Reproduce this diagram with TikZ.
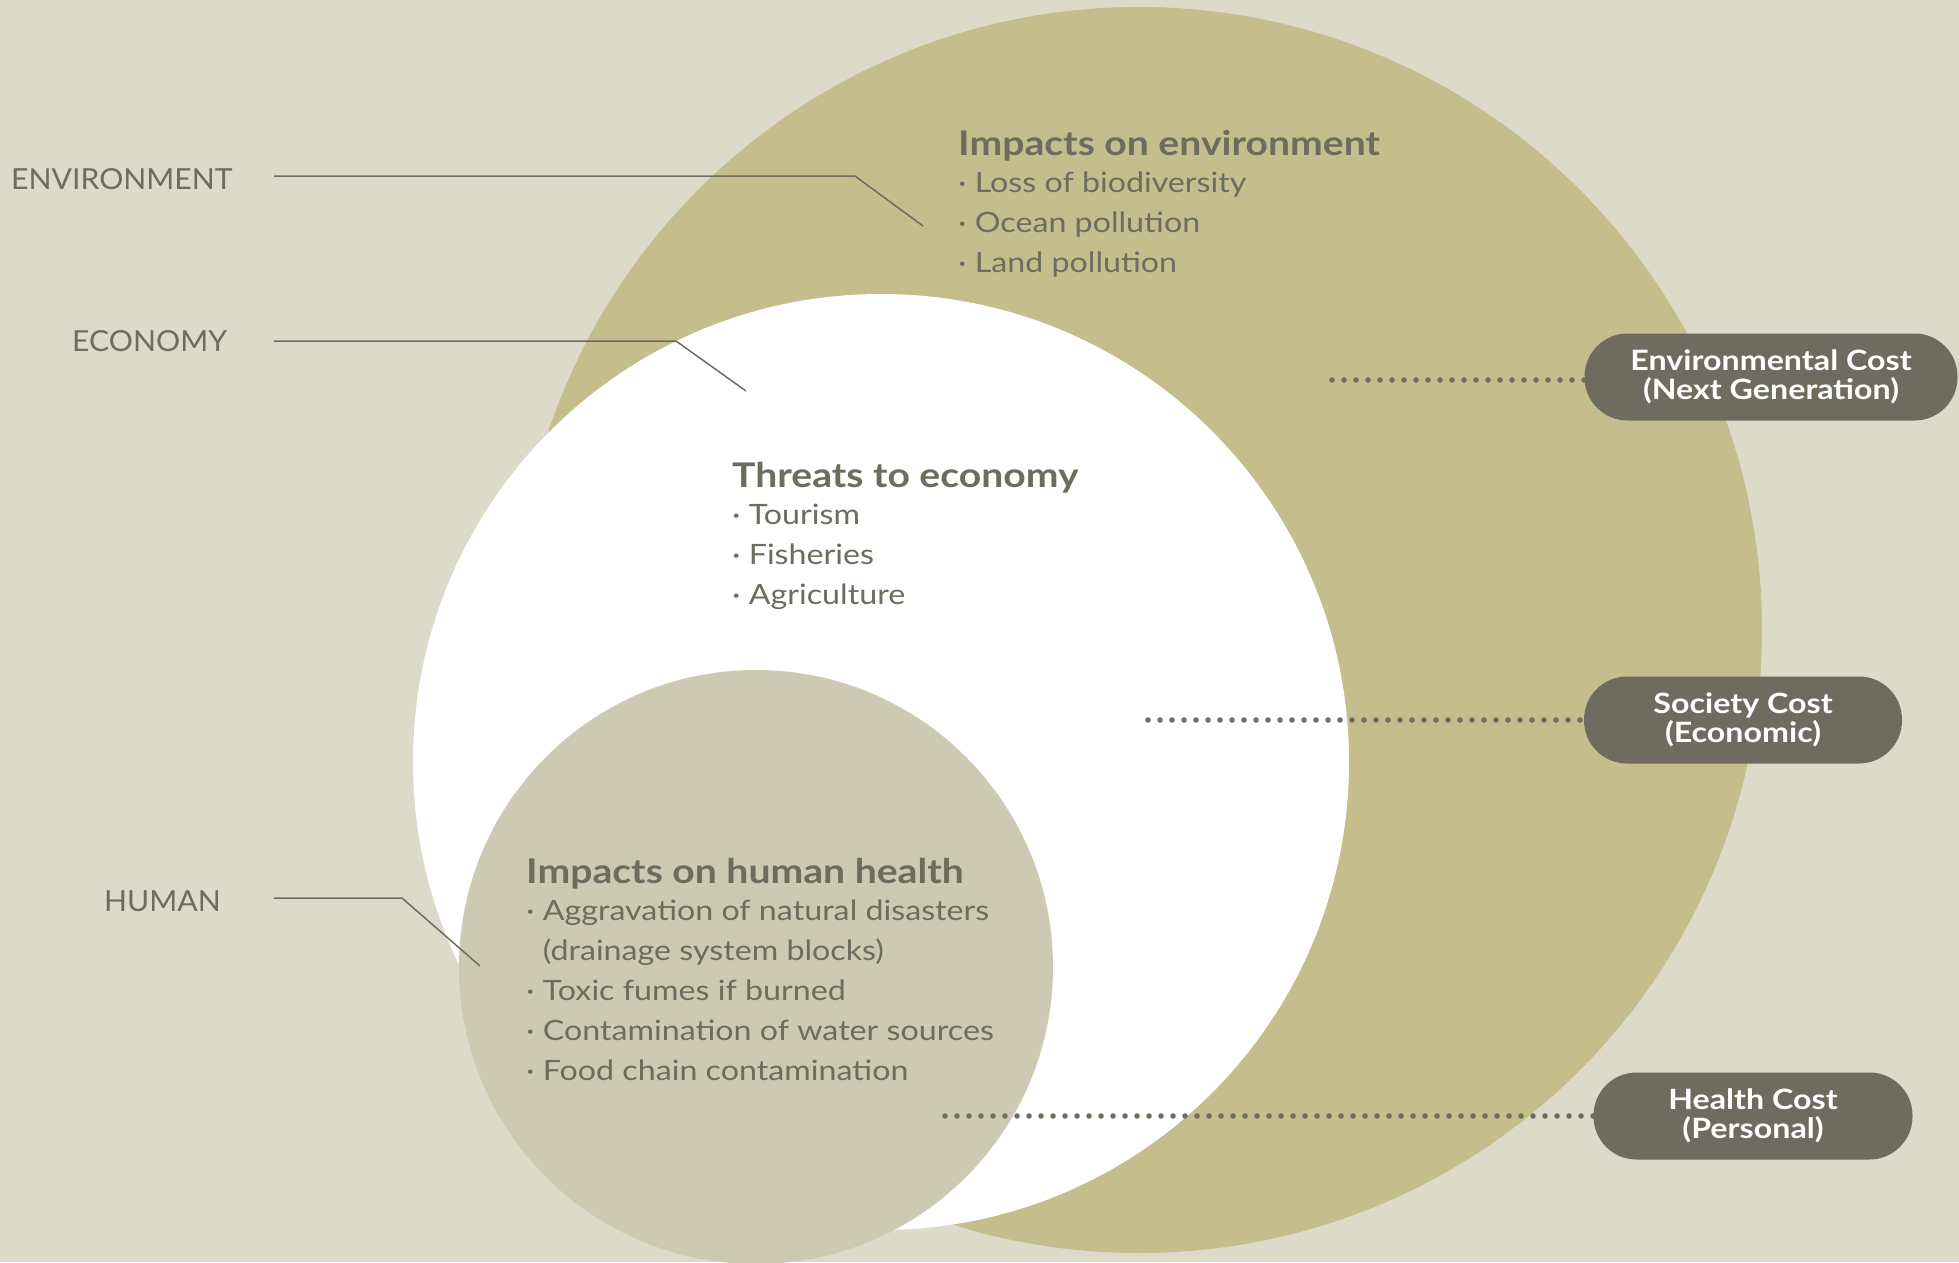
\documentclass[tikz,border=0pt]{standalone}
\usepackage{fontspec}
\setmainfont{Lato}[FakeStretch=1.15]
\newfontfamily\lblfont{Lato}[FakeStretch=1.04]
\newfontfamily\pillfont{Lato}[FakeStretch=1.15]
\definecolor{bg}{HTML}{DCDBC9}
\definecolor{olive}{HTML}{C5BD8C}
\definecolor{humanc}{HTML}{CDCAB3}
\definecolor{ink}{HTML}{6E6C5E}
\tikzset{
  lbl/.style={text=ink, font=\lblfont\fontsize{29}{32}\selectfont, inner sep=0pt, anchor=base west},
  block/.style={text=ink, font=\fontsize{28}{40}\selectfont, inner sep=0pt, anchor=base west},
  pill/.style={fill=ink, text=white, font=\pillfont\bfseries\fontsize{28}{29}\selectfont, align=center,
    minimum height=87pt, rounded corners=43pt, inner sep=0pt},
  leader/.style={draw=ink, line width=1.5pt},
  dots/.style={draw=ink, line width=5.5pt, line cap=round, dash pattern=on 0pt off 12pt}
}
\newcommand{\hd}[1]{{\fontsize{34}{40}\selectfont\bfseries #1}}
\begin{document}
\begin{tikzpicture}[x=1pt,y=-1pt]
\fill[bg] (0,0) rectangle (1959,1262);
\useasboundingbox (0,0) rectangle (1959,1262);
\fill[olive] (1139,630) circle (623pt);
\fill[white] (881,762) circle (468pt);
\fill[humanc] (756,967) circle (297pt);

% left labels
\node[lbl] (lenv) at (11,189) {ENVIRONMENT};
\node[lbl] (leco) at (72,351) {ECONOMY};
\node[lbl] (lhum) at (104,911) {HUMAN};

\coordinate (envA) at (274,176);
\coordinate (envB) at (855,176);
\coordinate (envC) at (923,226);
\coordinate (ecoA) at (274,341);
\coordinate (ecoB) at (676,341);
\coordinate (ecoC) at (746,391);
\coordinate (humA) at (274,898);
\coordinate (humB) at (402,898);
\coordinate (humC) at (480,966);
\draw[leader] (envA) -- (envB) -- (envC);
\draw[leader] (ecoA) -- (ecoB) -- (ecoC);
\draw[leader] (humA) -- (humB) -- (humC);

% text blocks
\node[block] (tenv) at (958,155) {\begin{tabular}[t]{@{}l@{}}\hd{Impacts on environment}\\[-3pt] · Loss of biodiversity\\ · Ocean pollution\\ · Land pollution\end{tabular}};
\node[block] (teco) at (732,487) {\begin{tabular}[t]{@{}l@{}}\hd{Threats to economy}\\[-3pt] · Tourism\\ · Fisheries\\ · Agriculture\end{tabular}};
\node[block] (thum) at (526,883) {\begin{tabular}[t]{@{}l@{}}\hd{Impacts on human health}\\[-3pt] · Aggravation of natural disasters\\ \phantom{· }(drainage system blocks)\\ · Toxic fumes if burned\\ · Contamination of water sources\\ · Food chain contamination\end{tabular}};

% pills
\node[pill, minimum width=373pt] (penv) at (1771,377) {Environmental Cost\\(Next Generation)};
\node[pill, minimum width=318pt] (psoc) at (1743,720) {Society Cost\\(Economic)};
\node[pill, minimum width=319pt] (phea) at (1753,1116) {Health Cost\\(Personal)};

\coordinate (denv) at (1332,380);
\coordinate (dsoc) at (1148,720);
\coordinate (dhea) at (945,1116);
\draw[dots] (denv) -- (penv.west |- denv);
\draw[dots] (dsoc) -- (psoc.west);
\draw[dots] (dhea) -- (phea.west);
\end{tikzpicture}
\end{document}
